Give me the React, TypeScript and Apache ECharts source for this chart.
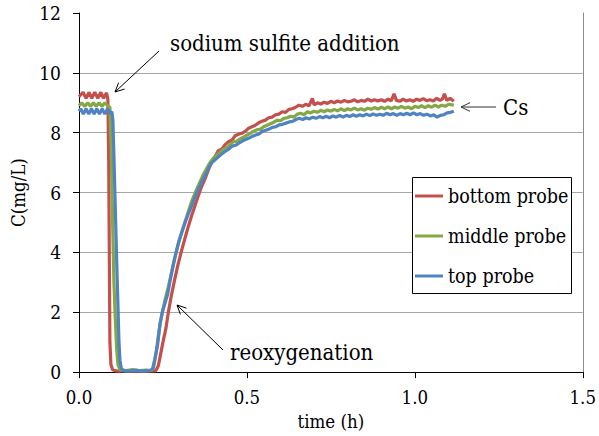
import React, { useEffect, useRef } from "react";
import * as echarts from "echarts";

const seriesNames = ["bottom probe", "middle probe", "top probe"];
const seriesColors = ["#C4504C", "#83A844", "#4F83C2"];
const xTicks = { min: 0, max: 1.5, interval: 0.5 };
const yTicks = { min: 0, max: 12, interval: 2 };

const bottomProbe: number[][] = [
  [0, 9.2], [0.012, 9.35], [0.021, 9.15], [0.03, 9.35], [0.038, 9.15], [0.047, 9.35], [0.056, 9.15],
  [0.065, 9.35], [0.073, 9.15], [0.082, 9.33], [0.086, 9.1], [0.0885, 7.0], [0.0905, 3.5], [0.092, 1.0],
  [0.095, 0.25], [0.1, 0.08], [0.11, 0.04], [0.12, 0.03], [0.14, 0.05], [0.16, 0.03], [0.18, 0.04],
  [0.2, 0.03], [0.22, 0.04], [0.229, 0.05], [0.236, 0.2], [0.243, 0.6], [0.25, 1.0], [0.259, 1.47],
  [0.266, 2.0], [0.275, 2.56], [0.285, 3.1], [0.295, 3.6], [0.304, 4.0], [0.315, 4.45], [0.325, 4.85],
  [0.336, 5.25], [0.345, 5.55], [0.354, 5.85], [0.365, 6.2], [0.375, 6.45], [0.385, 6.75], [0.396, 7.05],
  [0.405, 7.2], [0.415, 7.4], [0.425, 7.45], [0.435, 7.6], [0.445, 7.7], [0.455, 7.75], [0.465, 7.9],
  [0.475, 7.95], [0.485, 7.98], [0.496, 8.05], [0.505, 8.15], [0.515, 8.2], [0.525, 8.25], [0.535, 8.33],
  [0.545, 8.38], [0.555, 8.42], [0.565, 8.5], [0.575, 8.52], [0.585, 8.6], [0.595, 8.62], [0.605, 8.7],
  [0.615, 8.68], [0.625, 8.78], [0.635, 8.8], [0.645, 8.85], [0.655, 8.92], [0.665, 8.88], [0.675, 8.95],
  [0.685, 8.9], [0.695, 9.15], [0.7, 8.93], [0.71, 9.0], [0.72, 8.96], [0.73, 9.02], [0.74, 8.98],
  [0.75, 9.05], [0.76, 9.0], [0.77, 9.06], [0.78, 9.02], [0.79, 9.08], [0.8, 9.03], [0.81, 9.05],
  [0.82, 9.1], [0.83, 9.03], [0.84, 9.08], [0.85, 9.05], [0.86, 9.12], [0.87, 9.06], [0.88, 9.1],
  [0.89, 9.06], [0.9, 9.1], [0.91, 9.05], [0.92, 9.12], [0.93, 9.07], [0.938, 9.3], [0.945, 9.08],
  [0.955, 9.05], [0.965, 9.12], [0.975, 9.06], [0.985, 9.1], [0.995, 9.05], [1.005, 9.12], [1.015, 9.08],
  [1.025, 9.14], [1.035, 9.07], [1.045, 9.1], [1.055, 9.06], [1.065, 9.15], [1.075, 9.08], [1.082, 9.12],
  [1.088, 9.3], [1.095, 9.08], [1.105, 9.15], [1.116, 9.05],
];

const middleProbe: number[][] = [
  [0, 8.9], [0.008, 9.0], [0.017, 8.88], [0.026, 9.0], [0.034, 8.88], [0.043, 9.0], [0.051, 8.88],
  [0.06, 9.0], [0.068, 8.88], [0.077, 9.0], [0.085, 8.9], [0.092, 8.85], [0.096, 7.5], [0.1, 5.0],
  [0.104, 3.0], [0.108, 1.8], [0.112, 0.8], [0.116, 0.25], [0.122, 0.08], [0.14, 0.05], [0.16, 0.08],
  [0.18, 0.05], [0.2, 0.07], [0.215, 0.05], [0.222, 0.15], [0.229, 0.6], [0.236, 1.2], [0.243, 1.7],
  [0.25, 2.1], [0.258, 2.5], [0.266, 2.85], [0.275, 3.3], [0.285, 3.8], [0.295, 4.25], [0.305, 4.65],
  [0.315, 5.0], [0.325, 5.35], [0.337, 5.75], [0.348, 6.05], [0.36, 6.35], [0.37, 6.6], [0.38, 6.8],
  [0.39, 7.0], [0.4, 7.15], [0.41, 7.25], [0.42, 7.35], [0.43, 7.45], [0.44, 7.5], [0.45, 7.6],
  [0.46, 7.7], [0.47, 7.72], [0.48, 7.8], [0.49, 7.85], [0.5, 7.92], [0.51, 7.98], [0.52, 8.05],
  [0.53, 8.1], [0.54, 8.12], [0.55, 8.2], [0.56, 8.25], [0.57, 8.3], [0.58, 8.35], [0.59, 8.42],
  [0.6, 8.4], [0.61, 8.48], [0.62, 8.5], [0.63, 8.55], [0.64, 8.52], [0.65, 8.62], [0.66, 8.65],
  [0.67, 8.6], [0.68, 8.7], [0.69, 8.66], [0.7, 8.72], [0.71, 8.68], [0.72, 8.75], [0.73, 8.7],
  [0.74, 8.76], [0.75, 8.72], [0.76, 8.78], [0.77, 8.73], [0.78, 8.8], [0.79, 8.74], [0.8, 8.8],
  [0.81, 8.76], [0.82, 8.82], [0.83, 8.76], [0.84, 8.8], [0.85, 8.75], [0.86, 8.82], [0.87, 8.78],
  [0.88, 8.84], [0.89, 8.79], [0.9, 8.85], [0.91, 8.8], [0.92, 8.86], [0.93, 8.8], [0.94, 8.86],
  [0.95, 8.82], [0.96, 8.88], [0.97, 8.82], [0.98, 8.86], [0.99, 8.8], [1.0, 8.88], [1.01, 8.84],
  [1.02, 8.9], [1.03, 8.84], [1.04, 8.9], [1.05, 8.85], [1.06, 8.92], [1.07, 8.86], [1.08, 8.92],
  [1.09, 8.88], [1.1, 8.95], [1.116, 8.92],
];

const topProbe: number[][] = [
  [0, 8.72], [0.005, 8.8], [0.013, 8.62], [0.021, 8.8], [0.029, 8.62], [0.037, 8.8], [0.045, 8.62],
  [0.053, 8.8], [0.061, 8.62], [0.069, 8.8], [0.077, 8.62], [0.085, 8.8], [0.093, 8.65], [0.098, 8.7],
  [0.101, 8.4], [0.104, 7.2], [0.108, 5.5], [0.112, 3.8], [0.116, 2.2], [0.119, 1.0], [0.122, 0.4],
  [0.126, 0.12], [0.132, 0.05], [0.15, 0.03], [0.17, 0.06], [0.19, 0.03], [0.21, 0.05], [0.219, 0.1],
  [0.226, 0.45], [0.234, 0.9], [0.241, 1.6], [0.248, 2.0], [0.256, 2.3], [0.264, 2.6], [0.272, 3.1],
  [0.28, 3.55], [0.289, 4.0], [0.298, 4.4], [0.307, 4.7], [0.316, 5.0], [0.326, 5.3], [0.337, 5.6],
  [0.347, 5.9], [0.357, 6.15], [0.367, 6.4], [0.377, 6.6], [0.387, 6.85], [0.396, 7.0], [0.406, 7.1],
  [0.416, 7.2], [0.426, 7.3], [0.436, 7.38], [0.446, 7.45], [0.456, 7.55], [0.466, 7.58], [0.476, 7.65],
  [0.486, 7.72], [0.496, 7.77], [0.506, 7.82], [0.516, 7.88], [0.526, 7.92], [0.536, 7.96], [0.546, 8.05],
  [0.556, 8.08], [0.566, 8.12], [0.576, 8.18], [0.586, 8.2], [0.596, 8.26], [0.606, 8.28], [0.616, 8.32],
  [0.626, 8.36], [0.636, 8.38], [0.646, 8.44], [0.656, 8.48], [0.666, 8.44], [0.676, 8.5], [0.686, 8.46],
  [0.696, 8.52], [0.706, 8.48], [0.716, 8.54], [0.726, 8.5], [0.736, 8.55], [0.746, 8.5], [0.756, 8.56],
  [0.766, 8.52], [0.776, 8.58], [0.786, 8.52], [0.796, 8.58], [0.806, 8.54], [0.816, 8.6], [0.826, 8.55],
  [0.836, 8.6], [0.846, 8.56], [0.856, 8.62], [0.866, 8.57], [0.876, 8.63], [0.886, 8.58], [0.896, 8.62],
  [0.906, 8.58], [0.916, 8.65], [0.926, 8.6], [0.936, 8.64], [0.946, 8.58], [0.956, 8.64], [0.966, 8.6],
  [0.976, 8.65], [0.986, 8.6], [0.996, 8.66], [1.006, 8.6], [1.016, 8.64], [1.026, 8.58], [1.036, 8.62],
  [1.046, 8.56], [1.056, 8.6], [1.066, 8.52], [1.076, 8.58], [1.086, 8.6], [1.096, 8.66], [1.106, 8.68],
  [1.116, 8.72],
];

const FONT = '"DejaVu Serif Condensed", "DejaVu Serif", serif';

function arrow(x1: number, y1: number, x2: number, y2: number, color: string) {
  const dx = x2 - x1;
  const dy = y2 - y1;
  const L = Math.hypot(dx, dy);
  const ux = dx / L;
  const uy = dy / L;
  const h = 10;
  const a = 0.45;
  const ca = Math.cos(a);
  const sa = Math.sin(a);
  const w1 = [x2 - h * (ux * ca - uy * sa), y2 - h * (uy * ca + ux * sa)];
  const w2 = [x2 - h * (ux * ca + uy * sa), y2 - h * (uy * ca - ux * sa)];
  return [
    { type: "line", z: 10, shape: { x1, y1, x2, y2 }, style: { stroke: color, lineWidth: 1 } },
    { type: "polyline", z: 10, shape: { points: [w1, [x2, y2], w2] }, style: { stroke: color, lineWidth: 1, fill: null } },
  ];
}

function label(text: string, x: number, y: number, size: number) {
  return {
    type: "text",
    z: 10,
    style: { text, x, y, fill: "#000", font: `${size}px ${FONT}`, fontSize: size, fontFamily: FONT, verticalAlign: "middle", align: "left" },
  };
}

export default function App() {
  const ref = useRef<HTMLDivElement>(null);
  useEffect(() => {
    if (!ref.current) return;
    const chart = echarts.init(ref.current, null, { renderer: "svg" });
    const datasets = [bottomProbe, middleProbe, topProbe];
    chart.setOption({
      animation: false,
      backgroundColor: "#fff",
      grid: { left: 79, right: 12, top: 13, bottom: 58 },
      xAxis: {
        type: "value",
        min: xTicks.min,
        max: xTicks.max,
        interval: xTicks.interval,
        name: "time (h)",
        nameLocation: "middle",
        nameGap: 36,
        nameTextStyle: { color: "#000", fontSize: 18.5, fontFamily: FONT },
        axisLine: { show: true, lineStyle: { color: "#000", width: 1 } },
        axisTick: { show: true, inside: false, length: 6, lineStyle: { color: "#000" } },
        axisLabel: { color: "#000", fontSize: 18.5, fontFamily: FONT, margin: 16, formatter: (v: number) => v.toFixed(1) },
        splitLine: { show: false },
      },
      yAxis: [
        {
          type: "value",
          min: yTicks.min,
          max: yTicks.max,
          interval: yTicks.interval,
          name: "C(mg/L)",
          nameLocation: "middle",
          nameGap: 49,
          nameTextStyle: { color: "#000", fontSize: 18.5, fontFamily: FONT },
          axisLine: { show: true, lineStyle: { color: "#000", width: 1 } },
          axisTick: { show: true, inside: false, length: 6, lineStyle: { color: "#000" } },
          axisLabel: { color: "#000", fontSize: 19, fontFamily: FONT, margin: 18 },
          splitLine: {
            show: true,
            lineStyle: { color: ["#A6A6A6", "#A6A6A6", "#A6A6A6", "#A6A6A6", "#A6A6A6", "#A6A6A6", "rgba(0,0,0,0)"], width: 1 },
          },
        },
        {
          type: "value",
          position: "right",
          min: yTicks.min,
          max: yTicks.max,
          interval: yTicks.interval,
          axisLine: { show: true, lineStyle: { color: "#8C8C8C", width: 1 } },
          axisTick: { show: false },
          axisLabel: { show: false },
          splitLine: { show: false },
        },
      ],
      legend: {
        show: true,
        orient: "vertical",
        left: 415,
        top: 186,
        padding: 0,
        itemGap: 20,
        itemWidth: 28,
        itemHeight: 3,
        icon: "rect",
        textStyle: { color: "#000", fontSize: 19.5, fontFamily: FONT, lineHeight: 20 },
        data: seriesNames,
      },
      series: seriesNames.map((name, i) => ({
        name,
        type: "line",
        yAxisIndex: 0,
        data: datasets[i],
        showSymbol: false,
        symbol: "none",
        color: seriesColors[i],
        lineStyle: { color: seriesColors[i], width: 3.2 },
        z: 2 + i * 0.01,
      })),
      graphic: [
        { type: "rect", z: 3, shape: { x: 412.5, y: 177.5, width: 159, height: 116 }, style: { fill: "#fff", stroke: "#000", lineWidth: 1 } },
        label("sodium sulfite addition", 170, 43, 22),
        ...arrow(159, 51, 115, 92, "#000"),
        label("Cs", 503, 107, 22),
        ...arrow(496, 107, 461, 107, "#333"),
        label("reoxygenation", 230, 352, 22),
        ...arrow(223, 350, 177, 305, "#000"),
      ],
    });
    return () => chart.dispose();
  }, []);
  return <div ref={ref} style={{ position: "fixed", left: 0, top: 0, width: 599, height: 436 }} />;
}
